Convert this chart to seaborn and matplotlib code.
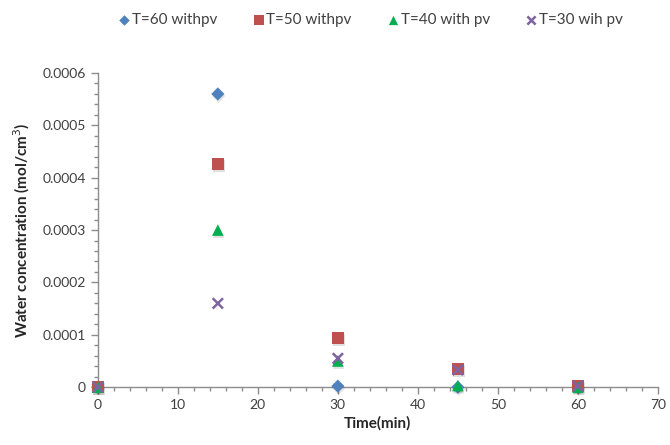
import numpy as np
import pandas as pd
import matplotlib.pyplot as plt
import matplotlib.ticker as plticker
import matplotlib.patheffects as pe
import seaborn as sns


# ---- data ----
TIME = [0, 15, 30, 45, 60]
SERIES = ["T=60 withpv", "T=50 withpv", "T=40 with pv", "T=30 wih pv"]
T60 = [0.0, 0.00056, 0.000002, 0.0, 0.0]
T50 = [0.0, 0.000427, 0.000094, 0.000034, 0.000003]
T40 = [0.0, 0.000300, 0.000050, 0.000003, 0.0]
T30 = [0.0, 0.000160, 0.000055, 0.000033, 0.000002]

COLORS = ["#4F81BD", "#C0504D", "#00B050", "#8064A2"]
MARKERS = ["D", "s", "^", "x"]


def main() -> None:
    df = pd.DataFrame({
        "time": TIME * 4,
        "conc": T60 + T50 + T40 + T30,
        "series": np.repeat(SERIES, len(TIME)),
    })

    sns.set_theme(style="white")
    plt.rcParams["font.family"] = ["Lato", "DejaVu Sans"]

    fig = plt.figure(figsize=(6.7, 4.45), dpi=100)
    ax = fig.add_axes([0.146, 0.130, 0.836, 0.706])

    sizes = {"D": 45, "s": 75, "^": 70, "x": 55}
    for name, col, mk in zip(SERIES, COLORS, MARKERS):
        sub = df[df["series"] == name]
        sns.scatterplot(data=sub, x="time", y="conc", color=col, marker=mk,
                        s=sizes[mk], linewidth=1.8 if mk == "x" else 0,
                        label=name, ax=ax, clip_on=False, zorder=5)

    # soft drop shadow like the Excel original
    for coll in ax.collections:
        coll.set_path_effects([pe.SimplePatchShadow(offset=(0.5, -1.5), alpha=0.12,
                                                    shadow_rgbFace="black"),
                               pe.Normal()])

    ax.set_xlim(0, 70)
    ax.set_ylim(0, 0.0006)
    ax.xaxis.set_major_locator(plticker.MultipleLocator(10))
    ax.xaxis.set_minor_locator(plticker.MultipleLocator(2))
    ax.yaxis.set_major_locator(plticker.MultipleLocator(0.0001))
    ax.yaxis.set_minor_locator(plticker.MultipleLocator(0.00002))
    ax.yaxis.set_major_formatter(plticker.FuncFormatter(
        lambda v, p: "0" if abs(v) < 1e-12 else f"{v:.4f}"))

    for side in ["top", "right"]:
        ax.spines[side].set_visible(False)
    for side in ["left", "bottom"]:
        ax.spines[side].set_color("#8c8c8c")
        ax.spines[side].set_linewidth(1.0)

    ax.tick_params(axis="both", which="major", direction="out", length=5,
                   width=1, color="#8c8c8c", labelsize=10, labelcolor="#404040",
                   left=True, bottom=True)
    ax.tick_params(axis="both", which="minor", direction="out", length=3,
                   width=1, color="#8c8c8c", left=True, bottom=True)

    ax.set_xlabel("Time(min)", fontsize=11, fontweight="bold", color="#262626",
                  labelpad=4)
    ax.set_ylabel("Water concentration (mol/cm$^3$)", fontsize=11,
                  fontweight="bold", color="#262626", labelpad=8)

    sns.move_legend(ax, "center", bbox_to_anchor=(0.553, 0.955),
                    bbox_transform=fig.transFigure, ncol=4, frameon=False,
                    fontsize=11, handletextpad=0.1, handlelength=0.8,
                    columnspacing=2.3, markerscale=0.8, title=None)
    for t in ax.get_legend().get_texts():
        t.set_color("#404040")

    fig.savefig("out.png", dpi=100)
    plt.close(fig)


if __name__ == "__main__":
    main()
